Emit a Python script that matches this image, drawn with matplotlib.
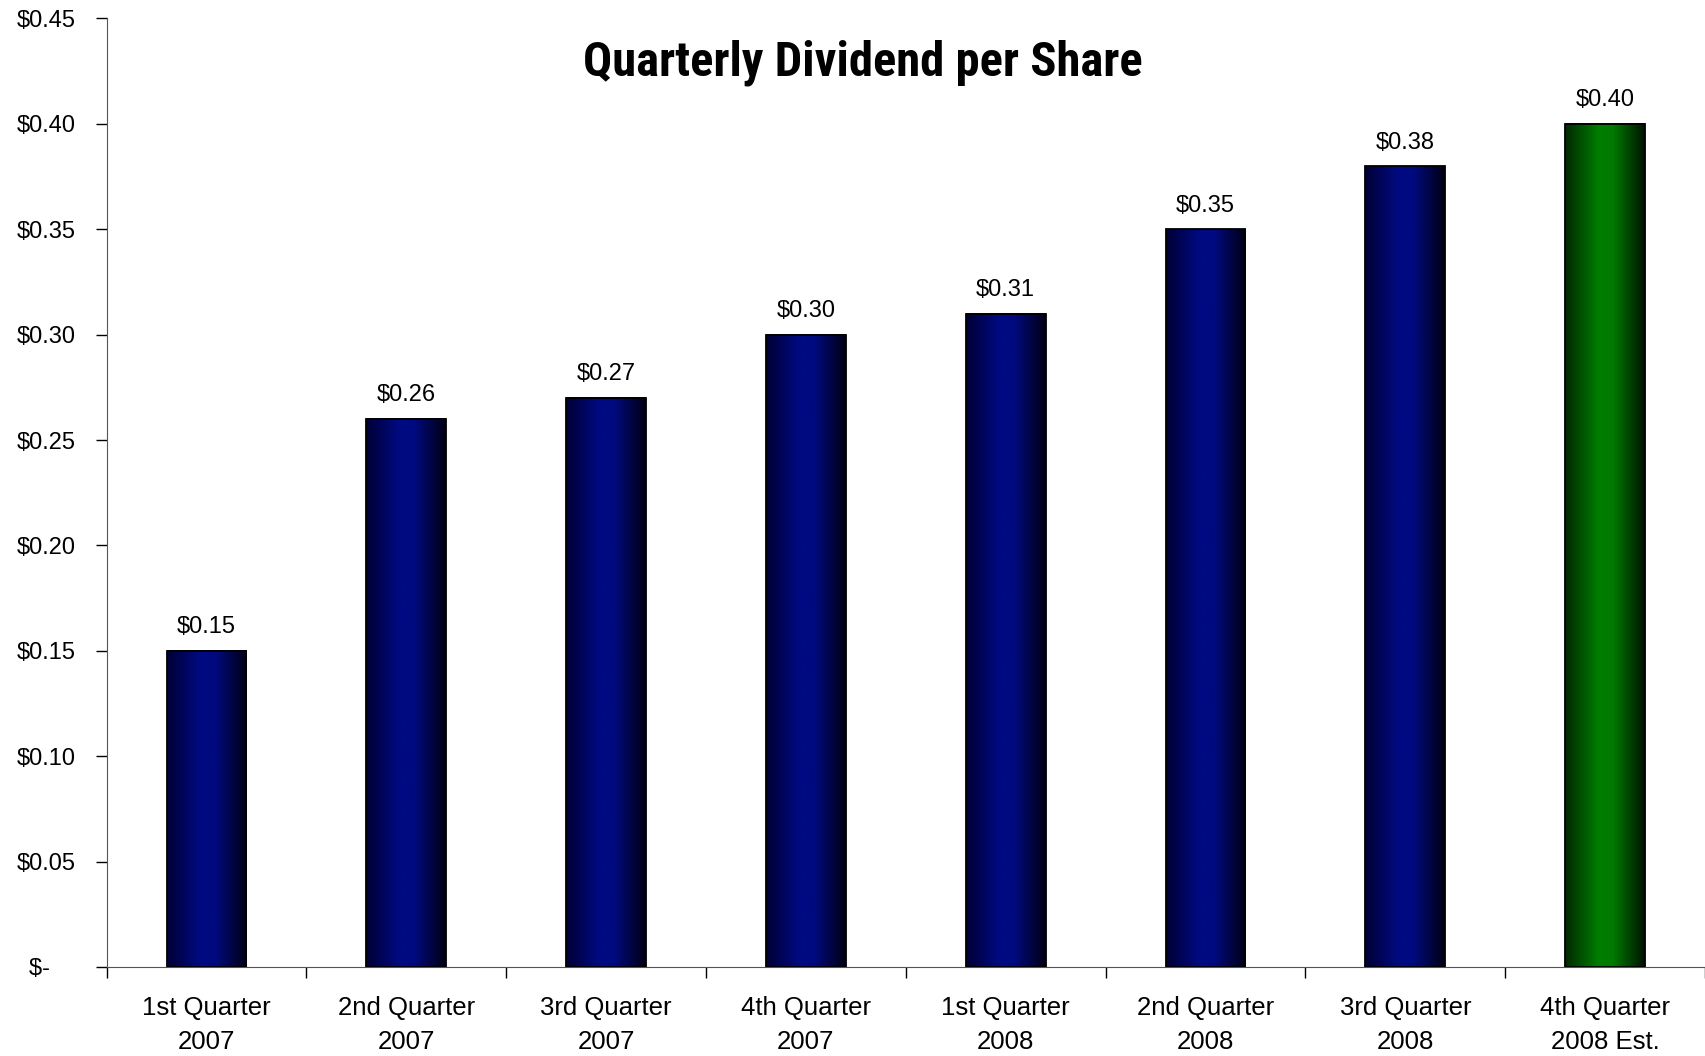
import numpy as np
import matplotlib.pyplot as plt
from matplotlib.colors import LinearSegmentedColormap
from matplotlib.ticker import FuncFormatter, FixedLocator

quarters = ['1st Quarter\n2007', '2nd Quarter\n2007', '3rd Quarter\n2007', '4th Quarter\n2007',
            '1st Quarter\n2008', '2nd Quarter\n2008', '3rd Quarter\n2008', '4th Quarter\n2008 Est.']
dividend = [0.15, 0.26, 0.27, 0.30, 0.31, 0.35, 0.38, 0.40]
estimate = [False, False, False, False, False, False, False, True]

blue_cm = LinearSegmentedColormap.from_list('b', [(0, '#000035'), (0.42, '#000a82'), (0.6, '#000a80'), (1, '#000012')])
green_cm = LinearSegmentedColormap.from_list('g', [(0, '#002800'), (0.42, '#007d00'), (0.6, '#007a00'), (1, '#001200')])

fig = plt.figure(figsize=(17.05, 10.56), dpi=100)
ax = fig.add_axes([0.0625, 0.0843, 0.9375, 0.8982])

x = np.arange(len(dividend))
bars = ax.bar(x, dividend, width=0.4, facecolor='none', edgecolor='black', linewidth=1.3, zorder=3)
grad = np.linspace(0, 1, 256).reshape(1, -1)
for b, est in zip(bars, estimate):
    bx, bw, bh = b.get_x(), b.get_width(), b.get_height()
    ax.imshow(grad, cmap=green_cm if est else blue_cm, extent=[bx, bx + bw, 0, bh],
              aspect='auto', zorder=2, interpolation='bilinear')
    ax.annotate('$%.2f' % bh, (bx + bw / 2, bh), xytext=(0, 9), textcoords='offset points',
                ha='center', va='bottom', fontsize=17, family='Liberation Sans')

ax.set_xlim(-0.5, 7.5)
ax.set_ylim(0, 0.45)

ax.set_yticks(np.arange(0, 0.451, 0.05))
ax.yaxis.set_major_formatter(FuncFormatter(lambda v, p: '$-    ' if abs(v) < 1e-9 else '$%.2f' % v))
ax.tick_params(axis='y', length=8, width=1, pad=14, labelsize=17)
for t in ax.get_yticklabels():
    t.set_family('Liberation Sans')

ax.set_xticks(x)
ax.set_xticklabels(quarters, fontsize=18.5, family='Liberation Sans', linespacing=1.5)
ax.tick_params(axis='x', length=0, pad=21)
ax.xaxis.set_minor_locator(FixedLocator(np.arange(-0.5, 8, 1)))
ax.tick_params(axis='x', which='minor', length=8, width=1)

for s in ['top', 'right']:
    ax.spines[s].set_visible(False)
ax.spines['left'].set_color('#555555')
ax.spines['bottom'].set_color('#555555')

fig.text(0.506, 0.941, 'Quarterly Dividend per Share', ha='center', va='center',
         fontsize=35, fontweight='bold',
         family=['Roboto Condensed', 'Liberation Sans Narrow', 'Roboto', 'DejaVu Sans'])

fig.savefig('out.png', dpi=100)
